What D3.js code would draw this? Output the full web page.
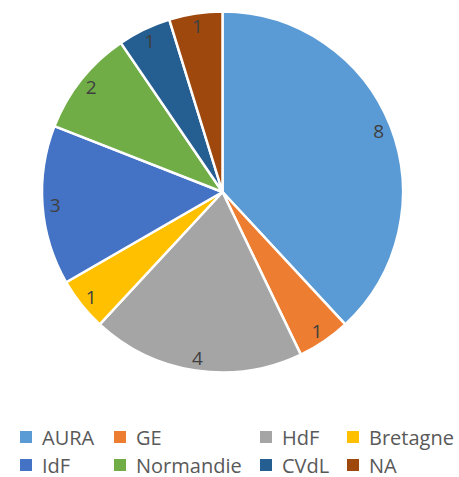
<!DOCTYPE html>
<html><head><meta charset="utf-8">
<script src="https://cdn.jsdelivr.net/npm/d3@7"></script>
<style>body{margin:0;background:#fff}svg{display:block}</style>
</head><body>
<script>
const categories = ["AURA","GE","HdF","Bretagne","IdF","Normandie","CVdL","NA"];
const values = [8,1,4,1,3,2,1,1];
const colors = ["#5B9BD5","#ED7D31","#A5A5A5","#FFC000","#4472C4","#70AD47","#255E91","#9E480E"];

const W=459,H=477, cx=222.5, cy=192, R=180.5;
const svg=d3.select("body").append("svg").attr("width",W).attr("height",H);
const data=categories.map((c,i)=>({c,v:values[i],col:colors[i]}));
const pie=d3.pie().value(d=>d.v).sort(null);
const arcs=pie(data);
const arc=d3.arc().innerRadius(0).outerRadius(R);
const g=svg.append("g").attr("transform",`translate(${cx},${cy})`);
g.selectAll("path").data(arcs).join("path").attr("d",arc)
 .attr("fill",d=>d.data.col).attr("stroke","#fff").attr("stroke-width",2.5).attr("stroke-linejoin","round");
const lr=R*0.93;
g.selectAll("text").data(arcs).join("text")
 .attr("x",d=>lr*Math.sin((d.startAngle+d.endAngle)/2))
 .attr("y",d=>-lr*Math.cos((d.startAngle+d.endAngle)/2))
 .attr("text-anchor","middle").attr("dominant-baseline","central")
 .attr("font-family","'Open Sans', sans-serif").attr("font-size",19).attr("fill","#404040")
 .text(d=>d.data.v);

const lx=[20,114,260,347], ly=[437,465];
const lg=svg.append("g");
data.forEach((d,i)=>{
  const x=lx[i%4], y=ly[Math.floor(i/4)];
  lg.append("rect").attr("x",x).attr("y",y-6).attr("width",12).attr("height",12).attr("fill",d.col);
  lg.append("text").attr("x",x+22).attr("y",y).attr("dominant-baseline","central")
   .attr("font-family","'Open Sans', sans-serif").attr("font-size",20).attr("fill","#595959").text(d.c);
});
</script>
</body></html>
